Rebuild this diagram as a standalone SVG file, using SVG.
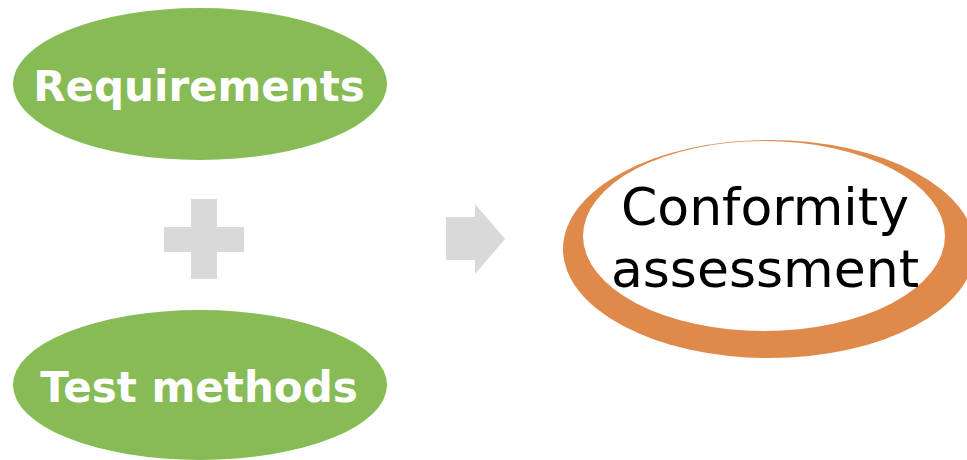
<svg xmlns="http://www.w3.org/2000/svg" width="967" height="460" viewBox="0 0 967 460">
<style>
.green{fill:#87bb56}
.lbl{font-family:"DejaVu Sans",Verdana,sans-serif;font-weight:bold;font-size:42px;fill:#ffffff;text-anchor:middle}
.big{font-family:"DejaVu Sans",Verdana,sans-serif;font-size:52px;fill:#000000;text-anchor:middle}
.gray{fill:#d9d9d9}
</style>
<rect width="967" height="460" fill="#ffffff"/>
<g id="requirements">
<ellipse class="green" cx="200" cy="84" rx="187" ry="76"/>
<text class="lbl" x="199" y="101">Requirements</text>
</g>
<g id="test-methods">
<ellipse class="green" cx="200" cy="385" rx="187" ry="75"/>
<text class="lbl" x="199" y="402">Test methods</text>
</g>
<g id="connectors">
<path id="plus" class="gray" d="M191,199 H217 V227 H244 V252 H217 V279 H191 V252 H164 V227 H191 Z"/>
<path id="arrow" class="gray" d="M446,217 H475 V204 L505,239 L475,274 V260 H446 Z"/>
</g>
<g id="conformity">
<ellipse cx="769" cy="249" rx="206" ry="109" fill="#df8a4a"/>
<ellipse cx="764" cy="236" rx="181" ry="95" fill="#ffffff"/>
<text class="big" x="765" y="225">Conformity</text>
<text class="big" x="765" y="287">assessment</text>
</g>
</svg>
